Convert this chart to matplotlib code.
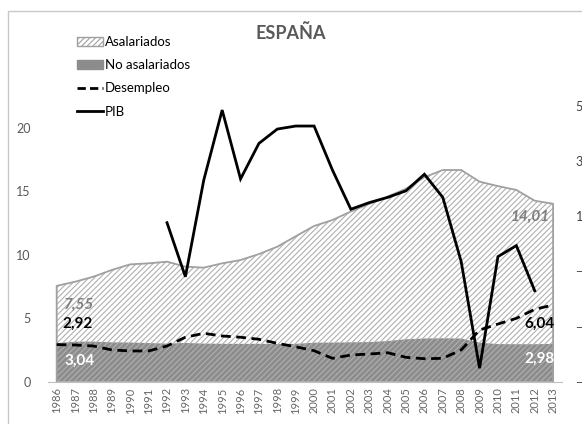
import matplotlib.pyplot as plt
from matplotlib.patches import Patch, Rectangle
from matplotlib.lines import Line2D

plt.rcParams['font.family'] = ['Lato', 'DejaVu Sans']
plt.rcParams['hatch.linewidth'] = 0.8

years = list(range(1986, 2014))
asalariados = [7.55, 7.87, 8.27, 8.8, 9.24, 9.32, 9.45, 9.06, 8.98, 9.32,
               9.58, 10.05, 10.63, 11.45, 12.26, 12.73, 13.4, 14.0, 14.57, 15.2,
               16.1, 16.67, 16.67, 15.75, 15.4, 15.1, 14.25, 14.01]
no_asalariados = [3.04, 3.15, 3.15, 3.1, 3.08, 3.04, 3.0, 3.05, 3.0, 2.98,
                  2.98, 2.98, 2.97, 2.98, 3.07, 3.08, 3.1, 3.12, 3.2, 3.34,
                  3.4, 3.42, 3.4, 3.07, 2.96, 2.95, 2.95, 2.98]
desempleo = [2.92, 2.89, 2.81, 2.5, 2.42, 2.42, 2.81, 3.5, 3.81, 3.6,
             3.5, 3.34, 3.02, 2.75, 2.44, 1.84, 2.1, 2.18, 2.28, 1.92,
             1.81, 1.84, 2.5, 4.07, 4.54, 4.99, 5.7, 6.04]
pib_years = list(range(1992, 2013))
pib = [0.77, -1.19, 2.32, 4.86, 2.36, 3.65, 4.17, 4.28, 4.28, 2.68,
       1.26, 1.5, 1.69, 1.93, 2.53, 1.69, -0.64, -4.51, -0.46, -0.06, -1.7]

W, H = 582, 424
fig = plt.figure(figsize=(W / 100, H / 100), dpi=100)
ax = fig.add_axes([47.5 / W, (H - 381.7) / H, 514.8 / W, 317.5 / H])

# chart frame (cut by the image edge)
fig.patches.append(Rectangle((7.5 / W, -0.1), 1.2, 1 - 11 / H + 0.1, transform=fig.transFigure,
                             fill=False, edgecolor='#c8c8c8', linewidth=1))

ax.fill_between(years, 0, no_asalariados, facecolor='#8c8c8c', edgecolor='none', linewidth=0)
ax.fill_between(years, 0, asalariados, facecolor='none', edgecolor='#b0b0b0', hatch='//////', linewidth=0)
ax.plot([years[0]] + years + [years[-1]], [0] + asalariados + [0], color='#a0a0a0', linewidth=1.3)
ax.plot(years, desempleo, color='black', linestyle=(0, (3.5, 2)), linewidth=2)

ax.set_xlim(1985.5, 2013.5)
ax.set_ylim(0, 25)
ax.set_xticks(years)
ax.set_xticklabels([str(y) for y in years], rotation=90, fontsize=8, color='#666666')
ax.set_yticks([0, 5, 10, 15, 20])
ax.tick_params(axis='y', length=0, labelsize=9, labelcolor='#595959', pad=12)
ax.tick_params(axis='x', length=0, pad=4)
for s in ['top', 'right', 'left']:
    ax.spines[s].set_visible(False)
ax.spines['bottom'].set_color('#bfbfbf')
ax.patch.set_visible(False)

ax2 = ax.twinx()
ax2.plot(pib_years, pib, color='black', linewidth=2, solid_joinstyle='miter')
ax2.set_ylim(-5, -5 + 25 * 12.7 / 27.55)
ax2.set_yticks([-5, -3, -1, 1, 3, 5])
ax2.tick_params(axis='y', length=0, labelsize=9, labelcolor='#404040', pad=9.5)
for s in ax2.spines.values():
    s.set_visible(False)

# data labels
ax.text(1986.4, asalariados[0] - 1.5, '7,55', fontsize=11, fontweight='bold', fontstyle='italic',
        color='#7f7f7f', ha='left', va='center')
ax.text(1986.3, desempleo[0] + 1.6, '2,92', fontsize=11, fontweight='bold', color='black',
        ha='left', va='center')
ax.text(1986.4, no_asalariados[0] - 1.4, '3,04', fontsize=11, fontweight='bold', color='white',
        ha='left', va='center')
ax.text(2012.8, asalariados[-1] - 1.0, '14,01', fontsize=11, fontweight='bold', fontstyle='italic',
        color='#7f7f7f', ha='right', va='center')
ax.text(2013.1, desempleo[-1] - 1.5, '6,04', fontsize=11, fontweight='bold', color='black',
        ha='right', va='center')
ax.text(2013.1, no_asalariados[-1] - 1.2, '2,98', fontsize=11, fontweight='bold', color='white',
        ha='right', va='center')

fig.text(291 / W, 1 - 33 / H, 'ESPAÑA', fontsize=13, fontweight='bold', color='#595959',
         ha='center', va='center')

handles = [Patch(facecolor='white', edgecolor='#a0a0a0', hatch='//////', linewidth=1),
           Patch(facecolor='#8c8c8c', edgecolor='#8c8c8c'),
           Line2D([], [], color='black', linestyle=(0, (3, 1.5)), linewidth=2),
           Line2D([], [], color='black', linewidth=2)]
labels = ['Asalariados', 'No asalariados', 'Desempleo', 'PIB']
fig.legend(handles, labels, loc='upper left', bbox_to_anchor=(77 / W, 1 - 36 / H),
           frameon=False, fontsize=9.5, handlelength=2.0, handleheight=0.7, handletextpad=0.1,
           labelspacing=0.85, borderpad=0, borderaxespad=0, labelcolor='black')

fig.savefig('out.png', dpi=100)
